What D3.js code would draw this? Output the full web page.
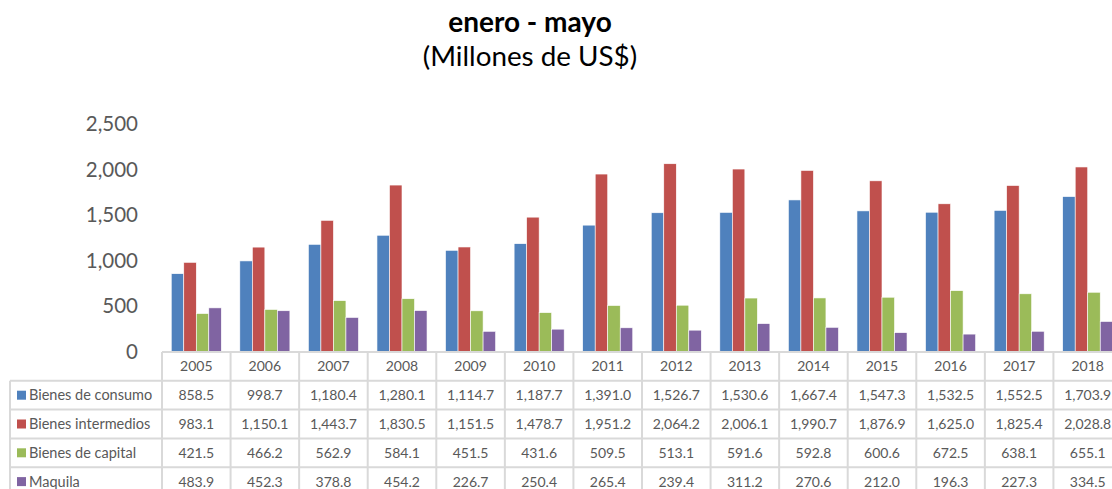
<!DOCTYPE html>
<html><head><meta charset="utf-8">
<script src="https://cdn.jsdelivr.net/npm/d3@7"></script>
<style>body{margin:0;background:#fff;overflow:hidden}svg{display:block;font-family:Lato,"Open Sans",sans-serif}</style>
</head><body>
<svg id="c" width="1112" height="489"></svg>
<script>
const years = ["2005","2006","2007","2008","2009","2010","2011","2012","2013","2014","2015","2016","2017","2018"];
const seriesNames = ["Bienes de consumo","Bienes intermedios","Bienes de capital","Maquila"];
const consumo = [858.5,998.7,1180.4,1280.1,1114.7,1187.7,1391.0,1526.7,1530.6,1667.4,1547.3,1532.5,1552.5,1703.9];
const intermedios = [983.1,1150.1,1443.7,1830.5,1151.5,1478.7,1951.2,2064.2,2006.1,1990.7,1876.9,1625.0,1825.4,2028.8];
const capital = [421.5,466.2,562.9,584.1,451.5,431.6,509.5,513.1,591.6,592.8,600.6,672.5,638.1,655.1];
const maquila = [483.9,452.3,378.8,454.2,226.7,250.4,265.4,239.4,311.2,270.6,212.0,196.3,227.3,334.5];
const yTicks = [0,500,1000,1500,2000,2500];
const colors = ["#4F81BD","#C0504D","#9BBB59","#8064A2"];
const seriesValues = [consumo, intermedios, capital, maquila];

const svg = d3.select("#c");
const x0 = d3.scaleBand().domain(years).range([162, 1122]).paddingInner(0).paddingOuter(0);
const groupPad = 0.27;
const x1 = d3.scaleBand().domain(d3.range(4)).range([x0.bandwidth()*groupPad/2, x0.bandwidth()*(1-groupPad/2)]).padding(0);
const y = d3.scaleLinear().domain([0,2500]).range([352,124]);

// titles
svg.append("text").attr("x",530).attr("y",32).attr("text-anchor","middle")
  .attr("font-weight","bold").attr("font-size",28).attr("fill","#000").text("enero - mayo");
svg.append("text").attr("x",530).attr("y",66).attr("text-anchor","middle")
  .attr("font-size",27.8).attr("fill","#000").text("(Millones de US$)");

// y axis
const yAxis = d3.axisLeft(y).tickValues(yTicks).tickFormat(d3.format(",")).tickSize(0).tickPadding(0);
const ga = svg.append("g").attr("transform","translate(138,0)").call(yAxis);
ga.select(".domain").remove();
ga.selectAll("text").attr("font-size",20.5).attr("fill","#595959").attr("font-family","Lato,'Open Sans',sans-serif");

// bars
const groups = svg.append("g").selectAll("g").data(years).join("g")
  .attr("transform", d => `translate(${x0(d)},0)`);
groups.selectAll("rect").data((d,i) => seriesValues.map((s,k)=>({k, v:s[i]}))).join("rect")
  .attr("x", d => x1(d.k)).attr("width", x1.bandwidth())
  .attr("y", d => y(d.v)).attr("height", d => y(0)-y(d.v))
  .attr("fill", d => colors[d.k]).attr("stroke","#fff").attr("stroke-width",0.6);

// table
const rowH = 28.8;
const tableTop = y(0);
const rowTop = k => tableTop + rowH*(k+1);
const grid = svg.append("g").attr("stroke","#d9d9d9").attr("stroke-width",2);
grid.append("line").attr("x1",162).attr("x2",1122).attr("y1",tableTop).attr("y2",tableTop);
for (let k=0;k<=4;k++){
  grid.append("line").attr("x1",10).attr("x2",1122).attr("y1",rowTop(k)).attr("y2",rowTop(k));
}
grid.append("line").attr("x1",10).attr("x2",10).attr("y1",rowTop(0)).attr("y2",rowTop(4));
years.forEach(yr => {
  grid.append("line").attr("x1",x0(yr)).attr("x2",x0(yr)).attr("y1",tableTop).attr("y2",rowTop(4));
});
grid.append("line").attr("x1",1122).attr("x2",1122).attr("y1",tableTop).attr("y2",rowTop(4));

const fmt = d3.format(",.1f");
const tt = svg.append("g").attr("font-size",14).attr("fill","#595959");
years.forEach((yr,i) => {
  tt.append("text").attr("x",x0(yr)+x0.bandwidth()/2).attr("y",tableTop+rowH/2).attr("dy","0.35em")
    .attr("text-anchor","middle").text(yr);
  seriesValues.forEach((s,k) => {
    tt.append("text").attr("x",x0(yr)+x0.bandwidth()/2).attr("y",rowTop(k)+rowH/2).attr("dy","0.35em")
      .attr("text-anchor","middle").text(fmt(s[i]));
  });
});
seriesNames.forEach((n,k) => {
  svg.append("rect").attr("x",17).attr("y",rowTop(k)+rowH/2-4.5).attr("width",9).attr("height",9).attr("fill",colors[k]);
  tt.append("text").attr("x",29).attr("y",rowTop(k)+rowH/2).attr("dy","0.35em").attr("font-size",14.5).text(n);
});
</script>
</body></html>
